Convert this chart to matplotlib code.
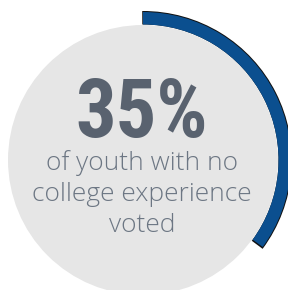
import matplotlib.pyplot as plt
from matplotlib.patches import Circle, Wedge

# data
share = 35  # percent
headline = f'{share}%'
caption_lines = ['of youth with no', 'college experience', 'voted']

blue = '#0b4f8f'
fig = plt.figure(figsize=(2.88, 2.90), dpi=100)
ax = fig.add_axes([0, 0, 1, 1])
ax.set_xlim(0, 288)
ax.set_ylim(0, 290)
ax.set_aspect('equal')
ax.axis('off')

cx, cy = 143, 130
ax.add_patch(Circle((cx, cy), 135, color='#e6e6e6', lw=0))

# progress arc, starting at 12 o'clock and running clockwise
span = 360 * share / 100
ax.add_patch(Wedge((cx, cy), 149, 90 - span - 0.6, 90.3, width=13.5, color='#111111', lw=0))
ax.add_patch(Wedge((cx, cy), 148, 90 - span, 90, width=12.5, color=blue, lw=0))

ax.text(142, 290 - 137, headline, ha='center', va='baseline', fontsize=58,
        family=['Roboto Condensed', 'Oswald', 'DejaVu Sans'], fontweight='bold',
        color='#59626f')

for i, line in enumerate(caption_lines):
    ax.text(142, 290 - 170 - i * 31, line, ha='center', va='baseline', fontsize=19,
            family='Open Sans', fontweight='light', color='#6c7683')

fig.savefig('out.png', dpi=100)
